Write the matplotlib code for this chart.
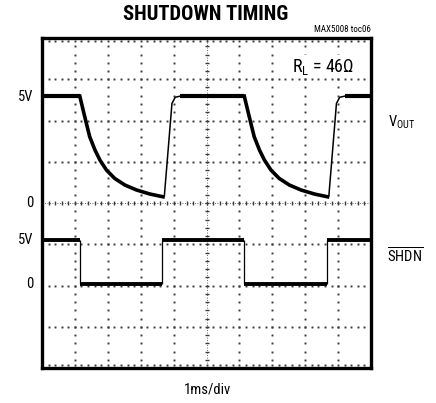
import numpy as np
import matplotlib
matplotlib.use("Agg")
import matplotlib.pyplot as plt
from matplotlib import font_manager

installed = set(f.name for f in font_manager.fontManager.ttflist)
narrow = next((f for f in ['Roboto Condensed', 'Archivo Narrow', 'PT Sans Narrow',
                           'Liberation Sans Narrow', 'Sofia Sans Condensed'] if f in installed),
              'DejaVu Sans')
plt.rcParams['font.family'] = [narrow, 'DejaVu Sans']
plt.rcParams['mathtext.fontset'] = 'custom'
plt.rcParams['mathtext.rm'] = narrow
plt.rcParams['mathtext.it'] = narrow

# time in ms (1ms/div), volts
shdn_fall = [1.15, 6.15]
shdn_rise = [3.65, 8.65]
shdn_high = 5.0
shdn_low = 0.0

# VOUT discharge after SHDN falls (t relative to fall, ms)
decay_t = [0.0, 0.03, 0.10, 0.20, 0.30, 0.46, 0.61, 0.81, 1.06, 1.37, 1.72, 2.13, 2.53]
decay_v = [5.0, 4.8, 4.35, 3.72, 3.10, 2.48, 2.01, 1.54, 1.15, 0.84, 0.61, 0.42, 0.29]
# VOUT recovery after SHDN rises (t relative to rise, ms)
rise_t = [0.04, 0.07, 0.30, 0.40, 0.55]
rise_v = [0.29, 0.35, 4.66, 4.95, 5.0]

# screen placement (divisions)
vout_zero, vout_gain = 4.0, 2.59 / 5
shdn_zero, shdn_gain = 2.03, 1.07 / 5

fig = plt.figure(figsize=(4.36, 4.03), dpi=100)
ax = fig.add_axes([42 / 436, 35 / 403, 329 / 436, 330 / 403])
ax.set_xlim(0, 10)
ax.set_ylim(0, 8)
ax.set_xticks([])
ax.set_yticks([])
for s in ax.spines.values():
    s.set_linewidth(2.4)

# graticule
gc = '#3a3a3a'
ys = np.arange(0, 8.001, 0.2)
xs = np.arange(0, 10.001, 0.2)
for k in range(1, 10):
    if k != 5:
        ax.plot(np.full_like(ys, k), ys, ls='none', marker='s', ms=1.4, color=gc, mew=0)
for k in range(1, 8):
    if k != 4:
        ax.plot(xs, np.full_like(xs, k), ls='none', marker='s', ms=1.4, color=gc, mew=0)
ax.plot(np.full_like(ys, 5), ys, ls='none', marker='_', ms=3.5, mew=1.0, color=gc)
ax.plot([5, 5], [0, 8], color=gc, lw=0.6, ls=(0, (1, 2)))
ax.plot(xs, np.full_like(xs, 4), ls='none', marker='|', ms=3.5, mew=1.0, color=gc)
ax.plot([0, 10], [4, 4], color=gc, lw=0.6, ls=(0, (1, 2)))
ax.plot(xs, np.full_like(xs, 7.92), ls='none', marker='s', ms=1.4, color=gc, mew=0)
ax.plot(xs, np.full_like(xs, 0.08), ls='none', marker='s', ms=1.4, color=gc, mew=0)

# SHDN trace
hy = shdn_zero + shdn_gain * shdn_high
ly = shdn_zero + shdn_gain * shdn_low
hi_seg = [(0, shdn_fall[0])] + [(r, f) for r, f in zip(shdn_rise[:-1], shdn_fall[1:])] + [(shdn_rise[-1], 10)]
lo_seg = list(zip(shdn_fall, shdn_rise))
for a, b in hi_seg + lo_seg:
    yy = hy if (a, b) in hi_seg else ly
    ax.plot([a, b], [yy, yy], color='black', lw=2.8, solid_capstyle='butt')
ax.vlines(shdn_fall + shdn_rise, ly, hy, color='black', lw=0.9)

# VOUT trace
vtop = vout_zero + vout_gain * 5.0
flat = [(0, shdn_fall[0])] + [(r + rise_t[-1], f) for r, f in zip(shdn_rise[:-1], shdn_fall[1:])] + [(shdn_rise[-1] + rise_t[-1], 10)]
for a, b in flat:
    ax.plot([a, b], [vtop, vtop], color='black', lw=3.0, solid_capstyle='butt')
for f in shdn_fall:
    ax.plot(f + np.array(decay_t), vout_zero + vout_gain * np.array(decay_v),
            color='black', lw=2.6, solid_joinstyle='round')
for r in shdn_rise:
    ax.plot(r + np.array(rise_t), vout_zero + vout_gain * np.array(rise_v), color='black', lw=1.1)

# labels
fig.text(206 / 436, 1 - 15 / 403, 'SHUTDOWN TIMING', ha='center', va='center',
         fontsize=14.8, fontweight='heavy')
fig.text(371 / 436, 1 - 30 / 403, 'MAX5008 toc06', ha='right', va='center', fontsize=6.5)
ax.text(9.5, 7.3, r'R$_{\mathrm{L}}$ = 46Ω', ha='right', va='center', fontsize=13,
        bbox=dict(facecolor='white', edgecolor='none', pad=1.0))
lx = 33 / 436
for lbl, ypix in [('5V', 97), ('0', 203), ('5V', 240), ('0', 284)]:
    fig.text(lx, 1 - ypix / 403, lbl, ha='right', va='center', fontsize=10.5)
fig.text(388 / 436, 1 - 122 / 403, r'V$_{\mathrm{OUT}}$', ha='left', va='center', fontsize=10.5)
fig.text(387 / 436, 1 - 256 / 403, r'$\overline{\mathrm{SHDN}}$', ha='left', va='center', fontsize=10.5)
fig.text(207 / 436, 1 - 390 / 403, '1ms/div', ha='center', va='center', fontsize=10.5)

fig.savefig('out.png', dpi=100)
